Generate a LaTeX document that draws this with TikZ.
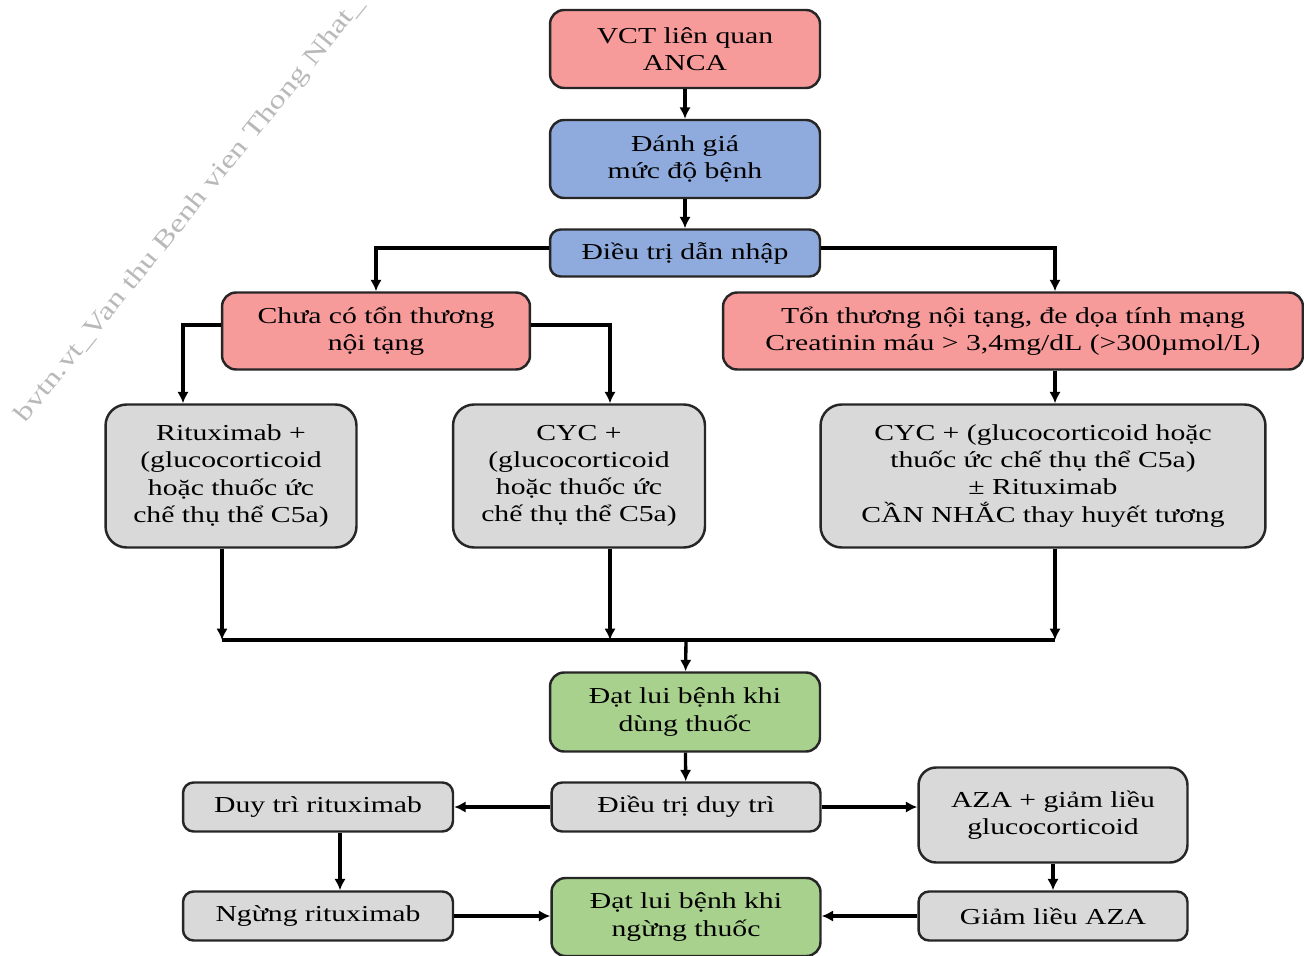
\documentclass[tikz,border=0pt]{standalone}
\usepackage{fontspec}
\setmainfont{Liberation Serif}[FakeStretch=1.3]
\usepackage{xcolor}
\usetikzlibrary{positioning,arrows.meta}

\definecolor{boxred}{HTML}{F79A9A}
\definecolor{boxblue}{HTML}{8FAADC}
\definecolor{boxgreen}{HTML}{A9D18E}
\definecolor{boxgray}{HTML}{D9D9D9}

\tikzset{
	box/.style={draw=black!85, line width=1.4pt, rounded corners=8pt, align=center,
		font=\fontsize{13}{15.4}\selectfont, inner sep=2pt},
	redbox/.style={box, fill=boxred},
	bluebox/.style={box, fill=boxblue},
	greenbox/.style={box, fill=boxgreen},
	graybox/.style={box, fill=boxgray},
	arr/.style={line width=1.9pt, -{Latex[length=6.5pt,width=6.5pt]}},
	plain/.style={line width=1.9pt}
}

\begin{document}
\begin{tikzpicture}[x=0.02cm, y=-0.02cm]
	\useasboundingbox (0,0) rectangle (1304,956);
	
	% Watermark
	\node[text=gray!55, font=\fontsize{14.5}{16}\selectfont, rotate=51, anchor=base west] (mark) at (22,428) {bvtn.vt\_Van thu Benh vien Thong Nhat\_};
	
	% Top column
	\node[redbox, minimum width=5.4cm, minimum height=1.56cm] (vct) at (685,49) {VCT liên quan\\ANCA};
	\node[bluebox, minimum width=5.4cm, minimum height=1.56cm] (danhgia) at (685,159) {Đánh giá\\mức độ bệnh};
	\node[bluebox, minimum width=5.4cm, minimum height=0.94cm, rounded corners=6pt] (dannhap) at (685,253) {Điều trị dẫn nhập};
	
	% Severity
	\node[redbox, minimum width=6.16cm, minimum height=1.54cm] (chuaco) at (376,331) {Chưa có tổn thương\\nội tạng};
	\node[redbox, minimum width=11.6cm, minimum height=1.54cm] (tonthuong) at (1013,331) {Tổn thương nội tạng, đe dọa tính mạng\\Creatinin máu > 3,4mg/dL (>300µmol/L)};
	
	% Induction regimens
	\node[graybox, minimum width=5.02cm, minimum height=2.86cm, rounded corners=12pt] (ritux) at (231,476) {Rituximab +\\(glucocorticoid\\hoặc thuốc ức\\chế thụ thể C5a)};
	\node[graybox, minimum width=5.04cm, minimum height=2.86cm, rounded corners=12pt] (cyc) at (579,476) {CYC +\\(glucocorticoid\\hoặc thuốc ức\\chế thụ thể C5a)};
	\node[graybox, minimum width=8.9cm, minimum height=2.86cm, rounded corners=12pt] (cycbig) at (1043,476) {CYC + (glucocorticoid hoặc\\thuốc ức chế thụ thể C5a)\\± Rituximab\\CẦN NHẮC thay huyết tương};
	
	% Remission and maintenance
	\node[greenbox, minimum width=5.4cm, minimum height=1.58cm] (datlui) at (685,712) {Đạt lui bệnh khi\\dùng thuốc};
	\node[graybox, minimum width=5.38cm, minimum height=0.98cm, rounded corners=6pt] (duytri) at (686,807) {Điều trị duy trì};
	\node[graybox, minimum width=5.4cm, minimum height=0.98cm, rounded corners=6pt] (duytriritux) at (318,807) {Duy trì rituximab};
	\node[graybox, minimum width=5.38cm, minimum height=1.9cm, rounded corners=10pt] (aza) at (1053,815) {AZA + giảm liều\\glucocorticoid};
	\node[graybox, minimum width=5.4cm, minimum height=0.98cm, rounded corners=6pt] (ngung) at (318,916) {Ngừng rituximab};
	\node[greenbox, minimum width=5.38cm, minimum height=1.56cm] (datluingung) at (686,917) {Đạt lui bệnh khi\\ngừng thuốc};
	\node[graybox, minimum width=5.38cm, minimum height=0.98cm, rounded corners=6pt] (giamaza) at (1053,916) {Giảm liều AZA};
	
	% Join points
	\coordinate (ja) at (222,640);
	\coordinate (jb) at (610,640);
	\coordinate (jc) at (1055,640);
	\coordinate (jm) at (686,640);
	
	% Connectors
	\draw[arr] (vct) -- (danhgia);
	\draw[arr] (danhgia) -- (dannhap);
	\draw[arr] ([yshift=0.1cm]dannhap.west) -| (chuaco.north);
	\draw[arr] ([yshift=0.1cm]dannhap.east) -| (tonthuong.north -| jc);
	\draw[arr] ([yshift=0.12cm]chuaco.west) -| ([xshift=-0.96cm]ritux.north);
	\draw[arr] ([yshift=0.12cm]chuaco.east) -| (cyc.north -| jb);
	\draw[arr] (tonthuong.south -| jc) -- (cycbig.north -| jc);
	\draw[arr] (ritux.south -| ja) -- (ja);
	\draw[arr] (cyc.south -| jb) -- (jb);
	\draw[arr] (cycbig.south -| jc) -- (jc);
	\draw[plain] (ja) -- (jc);
	\draw[arr] (jm) -- (datlui);
	\draw[arr] (datlui) -- (duytri);
	\draw[arr] (duytri) -- (duytriritux);
	\draw[arr] (duytri.east) -- (duytri.east -| aza.west);
	\draw[arr] ([xshift=0.44cm]duytriritux.south) -- ([xshift=0.44cm]ngung.north);
	\draw[arr] (aza) -- (giamaza);
	\draw[arr] (ngung.east) -- (ngung.east -| datluingung.west);
	\draw[arr] (giamaza.west) -- (giamaza.west -| datluingung.east);
\end{tikzpicture}
\end{document}
